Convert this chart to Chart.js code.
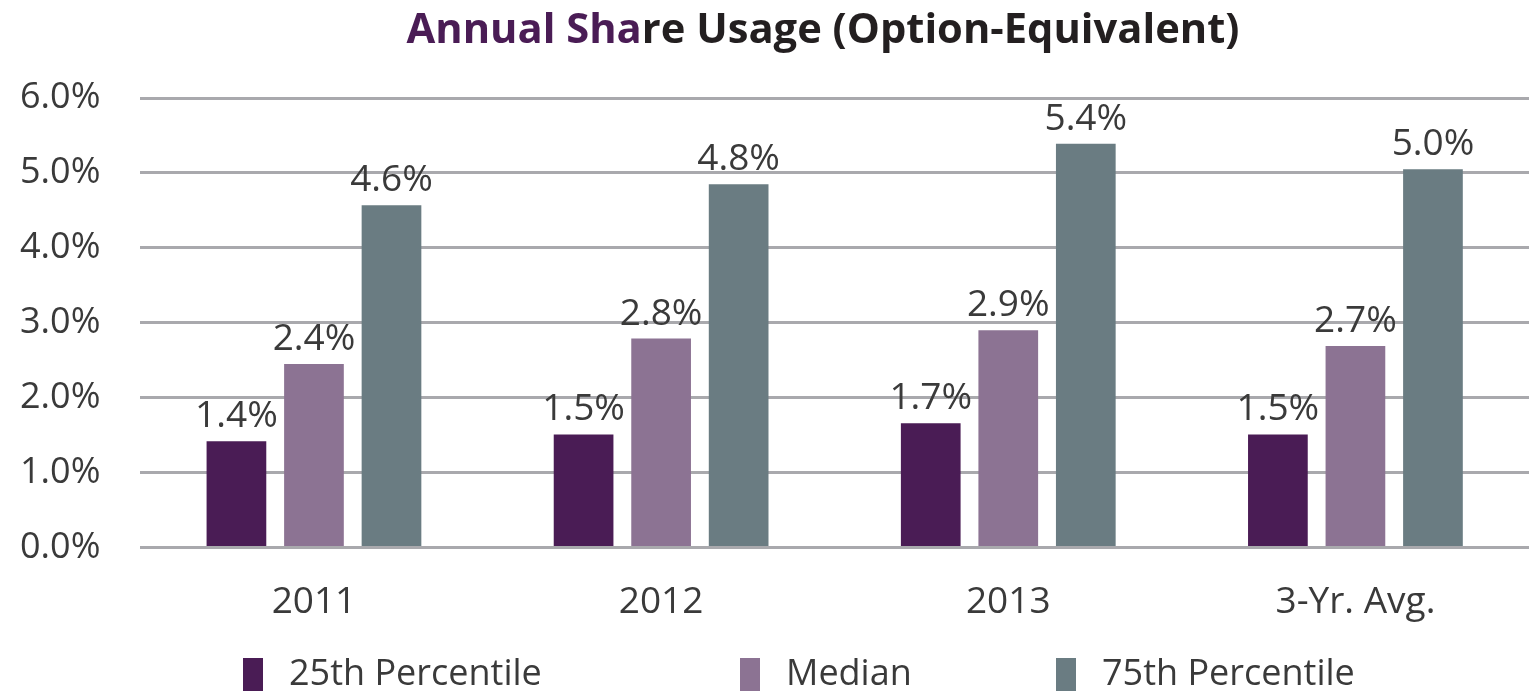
<!DOCTYPE html>
<html>
<head>
<meta charset="utf-8">
<script src="https://cdn.jsdelivr.net/npm/chart.js@4.4.0/dist/chart.umd.min.js"></script>
<style>
  html, body { margin: 0; padding: 0; background: #ffffff; }
  #wrap { width: 1529px; height: 693px; position: relative; }
</style>
</head>
<body>
<div id="wrap"><canvas id="c" width="1529" height="693"></canvas></div>
<script>
const categories = ["2011", "2012", "2013", "3-Yr. Avg."];
const seriesNames = ["25th Percentile", "Median", "75th Percentile"];
const p25 = [1.42, 1.51, 1.66, 1.51];
const median = [2.45, 2.79, 2.90, 2.69];
const p75 = [4.57, 4.85, 5.39, 5.05];
const p25Labels = ["1.4%", "1.5%", "1.7%", "1.5%"];
const medianLabels = ["2.4%", "2.8%", "2.9%", "2.7%"];
const p75Labels = ["4.6%", "4.8%", "5.4%", "5.0%"];
const yTicks = [0, 1, 2, 3, 4, 5, 6];
const titlePart1 = "Annual Sha";
const titlePart2 = "re Usage (Option-Equivalent)";

const colors = ["#4a1c55", "#8c7393", "#6a7c82"];
const FONT = "'Open Sans', 'Noto Sans', sans-serif";
const textColor = "#3a3a3a";
const valueLabels = [p25Labels, medianLabels, p75Labels];

const titlePlugin = {
  id: 'twoColorTitle',
  afterDraw(chart) {
    const ctx = chart.ctx;
    ctx.save();
    ctx.font = "bold 36px " + FONT;
    const w1 = ctx.measureText(titlePart1).width;
    const w2 = ctx.measureText(titlePart2).width;
    const target = 833;
    const scale = target / (w1 + w2);
    ctx.font = "bold " + (36 * scale).toFixed(1) + "px " + FONT;
    const a = ctx.measureText(titlePart1).width;
    const b = ctx.measureText(titlePart2).width;
    const startX = 823 - (a + b) / 2;
    ctx.textBaseline = "middle";
    ctx.textAlign = "left";
    ctx.fillStyle = "#4a1c55";
    ctx.fillText(titlePart1, startX, 31);
    ctx.fillStyle = "#231f20";
    ctx.fillText(titlePart2, startX + a, 31);
    ctx.restore();
  }
};

const valueLabelPlugin = {
  id: 'valueLabels',
  afterDatasetsDraw(chart) {
    const ctx = chart.ctx;
    ctx.save();
    ctx.font = "37px " + FONT;
    ctx.fillStyle = textColor;
    ctx.textAlign = "center";
    ctx.textBaseline = "bottom";
    chart.data.datasets.forEach((ds, di) => {
      const meta = chart.getDatasetMeta(di);
      meta.data.forEach((bar, i) => {
        ctx.fillText(valueLabels[di][i], bar.x, bar.y - 6);
      });
    });
    ctx.restore();
  }
};

const legendX = [243, 740, 1056];
const legendPlugin = {
  id: 'customLegend',
  afterDraw(chart) {
    const ctx = chart.ctx;
    ctx.save();
    ctx.font = "36px " + FONT;
    ctx.textBaseline = "middle";
    ctx.textAlign = "left";
    chart.data.datasets.forEach((ds, di) => {
      const x = legendX[di];
      ctx.fillStyle = ds.backgroundColor;
      ctx.fillRect(x, 658, 20, 33);
      ctx.fillStyle = textColor;
      ctx.fillText(ds.label, x + 46, 675);
    });
    ctx.restore();
  }
};

new Chart(document.getElementById('c'), {
  type: 'bar',
  data: {
    labels: categories,
    datasets: [
      { label: seriesNames[0], data: p25, backgroundColor: colors[0] },
      { label: seriesNames[1], data: median, backgroundColor: colors[1] },
      { label: seriesNames[2], data: p75, backgroundColor: colors[2] }
    ]
  },
  options: {
    responsive: false,
    animation: false,
    devicePixelRatio: 1,
    layout: { padding: { top: 98, right: -4, bottom: 35, left: -20 } },
    datasets: {
      bar: { categoryPercentage: 0.67, barPercentage: 0.77 }
    },
    plugins: {
      legend: { display: false },
      title: { display: false },
      tooltip: { enabled: false }
    },
    scales: {
      x: {
        grid: { display: false, drawTicks: false },
        border: { display: false },
        ticks: { color: textColor, font: { family: FONT, size: 37 }, padding: 33 }
      },
      y: {
        min: 0, max: 6,
        afterBuildTicks(axis) { axis.ticks = yTicks.map(v => ({ value: v })); },
        grid: { color: "#a9a9ad", lineWidth: 3, drawTicks: false },
        border: { display: false },
        ticks: {
          color: textColor,
          font: { family: FONT, size: 36 },
          padding: 40,
          callback: v => v.toFixed(1) + "%"
        }
      }
    }
  },
  plugins: [titlePlugin, valueLabelPlugin, legendPlugin]
});
</script>
</body>
</html>
